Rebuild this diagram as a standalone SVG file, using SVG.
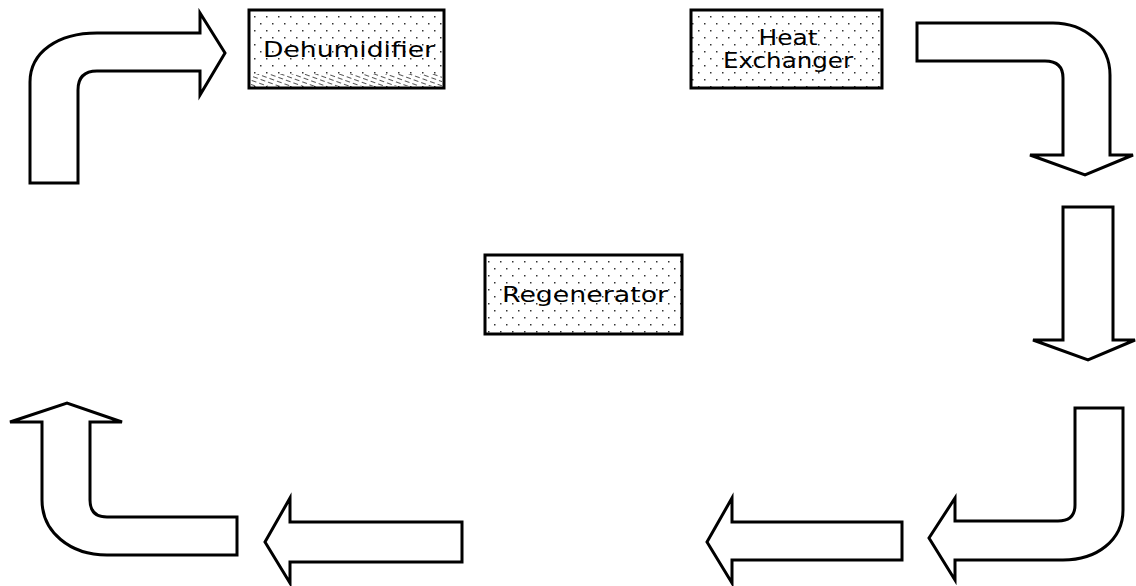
<svg xmlns="http://www.w3.org/2000/svg" width="1136" height="586" viewBox="0 0 1136 586">
<style>
.arrow{fill:#fff;stroke:#000;stroke-width:3;stroke-linejoin:miter}
.box{stroke:#000;stroke-width:3}
.lbl{font-family:"DejaVu Sans",Verdana,sans-serif;font-size:22px;fill:#000;text-anchor:middle}
</style>
<defs>
<pattern id="dots" width="12" height="14" patternUnits="userSpaceOnUse">
<rect width="12" height="14" fill="#fff"/>
<rect x="2" y="2" width="1.5" height="1.5" fill="#333"/>
<rect x="8" y="9" width="1.5" height="1.5" fill="#333"/>
</pattern>
<pattern id="hatch" width="8" height="4" patternUnits="userSpaceOnUse" patternTransform="rotate(20)">
<rect width="8" height="4" fill="#fff"/>
<rect x="0" y="1" width="5" height="1" fill="#555"/>
</pattern>
</defs>
<g id="dehumidifier">
<rect x="249" y="10" width="195" height="78" fill="url(#dots)"/>
<rect x="251" y="74" width="191" height="12" fill="url(#hatch)"/>
<rect class="box" x="249" y="10" width="195" height="78" fill="none"/>
<text class="lbl" x="349" y="57" textLength="172" lengthAdjust="spacingAndGlyphs">Dehumidifier</text>
</g>
<g id="heat-exchanger">
<rect class="box" x="691" y="10" width="191" height="78" fill="url(#dots)"/>
<text class="lbl" x="788" y="45" textLength="59" lengthAdjust="spacingAndGlyphs">Heat</text>
<text class="lbl" x="788" y="68" textLength="130" lengthAdjust="spacingAndGlyphs">Exchanger</text>
</g>
<g id="regenerator">
<rect class="box" x="485" y="255" width="197" height="79" fill="url(#dots)"/>
<text class="lbl" x="585" y="302" textLength="166" lengthAdjust="spacingAndGlyphs">Regenerator</text>
</g>
<g id="connectors">
<path class="arrow" d="M30,183 L30,82 C30,52 58,33 97,33 L200,33 L200,13 L225,53 L200,95 L200,71 L97,71 Q78,71 78,90 L78,183 Z"/>
<path class="arrow" d="M917,23 L1053,23 C1085,23 1110,45 1110,75 L1110,155 L1133,155 L1085,175 L1030,155 L1063,155 L1063,78 Q1063,61 1045,61 L917,61 Z"/>
<path class="arrow" d="M1063,207 L1113,207 L1113,340 L1135,340 L1088,360 L1033,340 L1063,340 Z"/>
<path class="arrow" d="M1075,408 L1123,408 L1123,510 C1123,540 1097,560 1063,560 L955,560 L955,580 L929,538 L955,498 L955,521 L1058,521 Q1075,521 1075,505 Z"/>
<path class="arrow" d="M902,522 L902,560 L732,560 L732,583 L707,542 L732,498 L732,522 Z"/>
<path class="arrow" d="M462,522 L462,562 L290,562 L290,583 L265,542 L290,498 L290,522 Z"/>
<path class="arrow" d="M237,517 L237,555 L107,555 C70,555 42,532 42,500 L42,422 L10,422 L67,403 L122,422 L90,422 L90,500 Q90,517 107,517 Z"/>
</g>
</svg>
